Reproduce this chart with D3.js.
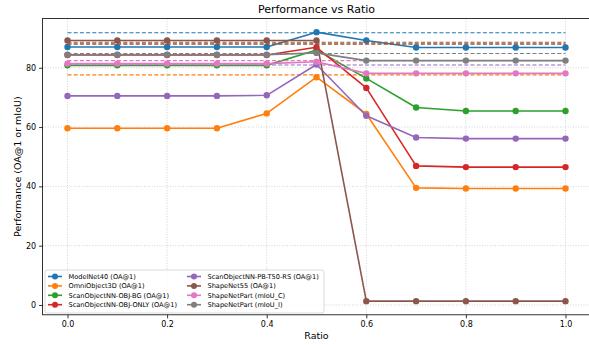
<!DOCTYPE html>
<html><head><meta charset="utf-8">
<script src="https://cdn.jsdelivr.net/npm/d3@7"></script>
<style>
html,body{margin:0;padding:0;background:#fff;}
svg{display:block;font-family:"DejaVu Sans",sans-serif;}
</style></head>
<body><svg id="chart" width="589" height="345"></svg>
<script>
const ratios = [0,0.1,0.2,0.3,0.4,0.5,0.6,0.7,0.8,0.9,1.0];
const seriesNames = ["ModelNet40 (OA@1)","OmniObject3D (OA@1)","ScanObjectNN-OBJ-BG (OA@1)","ScanObjectNN-OBJ-ONLY (OA@1)","ScanObjectNN-PB-T50-RS (OA@1)","ShapeNet55 (OA@1)","ShapeNetPart (mIoU_C)","ShapeNetPart (mIoU_I)"];
const modelnet40 = [87.0,87.0,87.0,87.0,87.0,92.0,89.2,86.8,86.8,86.8,86.8];
const omniobject3d = [59.6,59.6,59.6,59.6,64.6,76.8,64.4,39.5,39.3,39.3,39.3];
const objBg = [80.8,80.8,80.8,80.8,80.8,86.0,76.4,66.6,65.4,65.4,65.4];
const objOnly = [84.3,84.3,84.3,84.3,84.3,86.9,73.2,46.9,46.5,46.5,46.5];
const pbT50 = [70.5,70.5,70.5,70.5,70.7,81.1,63.8,56.5,56.1,56.1,56.1];
const shapenet55 = [89.2,89.2,89.2,89.2,89.2,89.2,1.3,1.3,1.3,1.3,1.3];
const partC = [81.4,81.4,81.4,81.4,81.4,82.0,78.1,78.1,78.1,78.1,78.1];
const partI = [84.4,84.4,84.4,84.4,84.4,85.0,82.4,82.4,82.4,82.4,82.4];
const baselines = [91.8,77.6,88.0,88.0,80.9,88.6,82.4,84.8];
const colors = ["#1f77b4","#ff7f0e","#2ca02c","#d62728","#9467bd","#8c564b","#e377c2","#7f7f7f"];
const xTicks = [0,0.2,0.4,0.6,0.8,1.0];
const yTicks = [0,20,40,60,80];

const allValues = [modelnet40,omniobject3d,objBg,objOnly,pbT50,shapenet55,partC,partI];
const svg = d3.select("#chart");
const x = d3.scaleLinear().domain([-0.05,1.05]).range([42.6,590.4]);
const y = d3.scaleLinear().domain([-3.3,96.6]).range([314.8,18.5]);
const L=42.6,R=590.4,T=18.5,B=314.8;

// grid
const g = svg.append("g");
g.selectAll(".gx").data(xTicks).join("line")
 .attr("x1",d=>x(d)).attr("x2",d=>x(d)).attr("y1",T).attr("y2",B)
 .attr("stroke","#b0b0b0").attr("stroke-opacity",0.7).attr("stroke-width",0.8).attr("stroke-dasharray","1,1.6");
g.selectAll(".gy").data(yTicks).join("line")
 .attr("y1",d=>y(d)).attr("y2",d=>y(d)).attr("x1",L).attr("x2",R)
 .attr("stroke","#b0b0b0").attr("stroke-opacity",0.7).attr("stroke-width",0.8).attr("stroke-dasharray","1,1.6");

// series
const line = d3.line().x((d,i)=>x(ratios[i])).y(d=>y(d));
allValues.forEach((vals,k)=>{
  const sg = svg.append("g");
  sg.append("path").datum(vals).attr("d",line).attr("fill","none")
    .attr("stroke",colors[k]).attr("stroke-width",1.6).attr("stroke-linejoin","round");
  sg.selectAll("circle").data(vals).join("circle")
    .attr("cx",(d,i)=>x(ratios[i])).attr("cy",d=>y(d)).attr("r",3.2).attr("fill",colors[k]);
  sg.append("line").attr("x1",x(0)).attr("x2",x(1)).attr("y1",y(baselines[k])).attr("y2",y(baselines[k]))
    .attr("stroke",colors[k]).attr("stroke-width",1.1).attr("stroke-dasharray","4,2.2");
});

// axes
const xAxis = d3.axisBottom(x).tickValues(xTicks).tickFormat(d3.format(".1f")).tickSize(3.5).tickPadding(3);
const yAxis = d3.axisLeft(y).tickValues(yTicks).tickFormat(d3.format("d")).tickSize(3.5).tickPadding(3);
const xa = svg.append("g").attr("transform",`translate(0,${B})`).call(xAxis);
const ya = svg.append("g").attr("transform",`translate(${L},0)`).call(yAxis);
[xa,ya].forEach(a=>{
  a.select(".domain").remove();
  a.selectAll("text").attr("font-size","8px").attr("fill","#000").attr("font-family","DejaVu Sans");
  a.selectAll("line").attr("stroke","#000").attr("stroke-width",0.8);
});
// spines
svg.append("rect").attr("x",L).attr("y",T).attr("width",R-L).attr("height",B-T)
  .attr("fill","none").attr("stroke","#000").attr("stroke-width",0.8);

// labels
svg.append("text").attr("x",(L+R)/2).attr("y",13).attr("text-anchor","middle")
  .attr("font-size","11px").text("Performance vs Ratio");
svg.append("text").attr("x",(L+R)/2).attr("y",339).attr("text-anchor","middle")
  .attr("font-size","9.5px").text("Ratio");
svg.append("text").attr("transform",`translate(21,${(T+B)/2}) rotate(-90)`).attr("text-anchor","middle")
  .attr("font-size","9.5px").text("Performance (OA@1 or mIoU)");

// legend
const lg = svg.append("g");
lg.append("rect").attr("x",45).attr("y",270).attr("width",279).attr("height",43).attr("rx",2)
  .attr("fill","#fff").attr("fill-opacity",0.8).attr("stroke","#d0d0d0").attr("stroke-width",0.8);
seriesNames.forEach((name,k)=>{
  const col = Math.floor(k/4), row = k%4;
  const lx = 48 + col*139, ly = 276.5 + row*9.4;
  lg.append("line").attr("x1",lx).attr("x2",lx+14).attr("y1",ly).attr("y2",ly)
    .attr("stroke",colors[k]).attr("stroke-width",1.6);
  lg.append("circle").attr("cx",lx+7).attr("cy",ly).attr("r",3).attr("fill",colors[k]);
  lg.append("text").attr("x",lx+20.5).attr("y",ly+2.4).attr("font-size","6.6px").text(name);
});
</script></body></html>
